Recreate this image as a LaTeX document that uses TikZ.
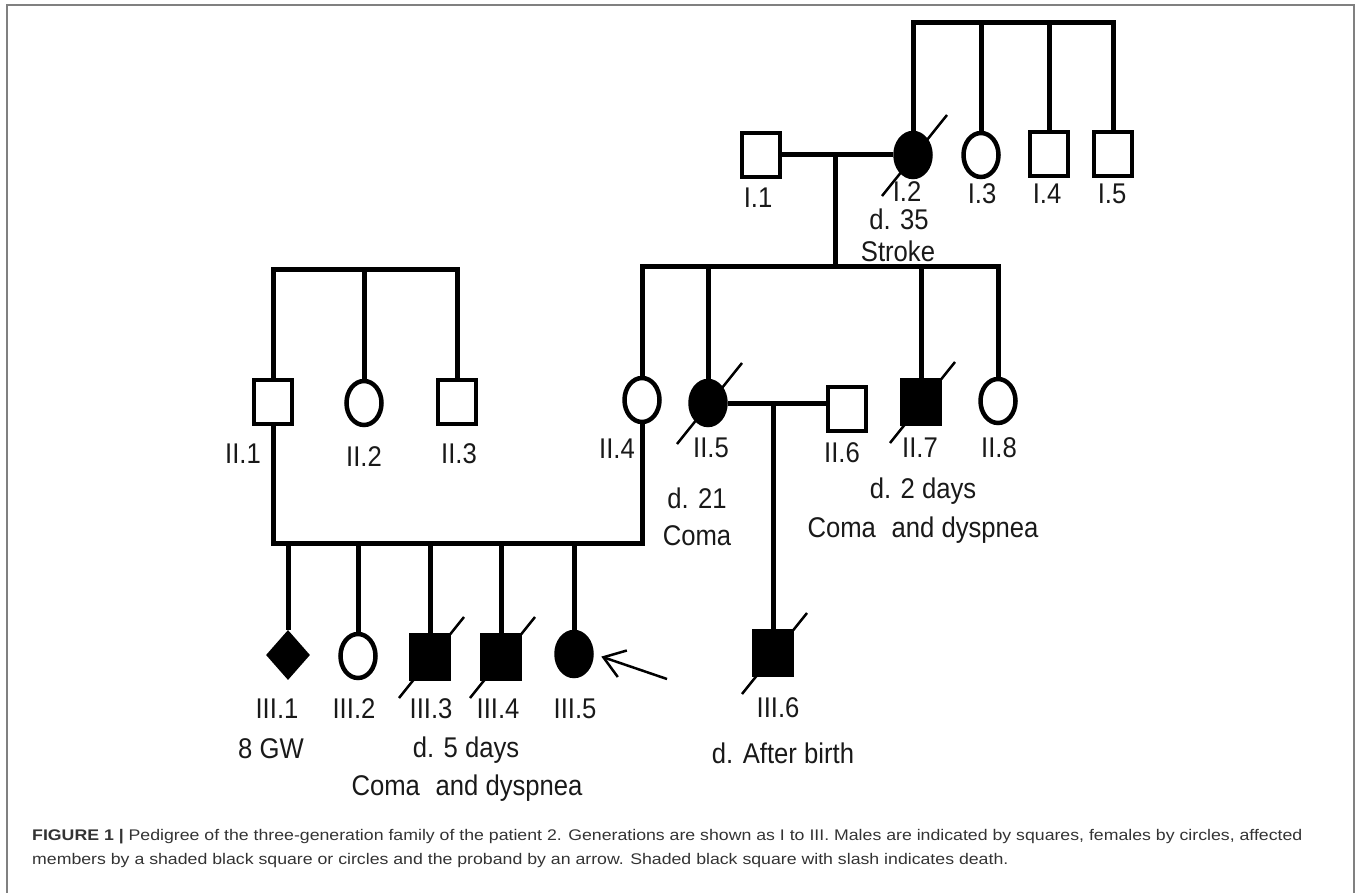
\documentclass[tikz,border=0pt]{standalone}
\usepackage{fontspec}
\setmainfont{Liberation Sans}
\newfontfamily\pedfont[FakeStretch=0.9]{Liberation Sans}
\newfontfamily\capfont[FakeStretch=1.15]{Liberation Sans}
\usepackage{tikz}
\usetikzlibrary{shapes.geometric, arrows.meta}
\usetikzlibrary{positioning, calc}
\tikzstyle{male} = [rectangle, draw=black, line width=4.5pt, 
minimum width=38pt, minimum height=44pt, inner sep=0pt]
\tikzstyle{female} = [ellipse, draw=black, line width=4.5pt, 
minimum width=35pt, minimum height=44pt, inner sep=0pt]
\tikzstyle{unknown} = [diamond, fill=black, minimum width=44pt, 
minimum height=50pt, inner sep=0pt]
\tikzstyle{affected} = [fill=black]
\tikzstyle{link} = [line width=5pt]
\tikzstyle{slash} = [line width=2.5pt]
\tikzstyle{proband} = [line width=2.5pt, 
-{Straight Barb[length=20pt, width=28pt]}]
\tikzstyle{lab} = [anchor=base, inner sep=0pt, text=black!90, 
font=\pedfont\fontsize{28.5}{31}\selectfont]
\tikzstyle{caption} = [anchor=base west, inner sep=0pt, text=black!80, 
font=\capfont\fontsize{15.4}{18}\selectfont]
\newcommand{\deceased}[1]{\draw [slash] ($(#1.center)+(-31,41)$) 
-- ($(#1.center)+(34,-40)$);}

\begin{document}
\begin{tikzpicture}[x=1pt, y=-1pt]
\useasboundingbox (0,0) rectangle (1357,893);
\draw [gray, line width=2pt] (7,893) -- (7,5) -- (1354,5) -- (1354,893);

\node (i1) [male] at (761,155) {};
\node (i2) [female, affected] at (913,155) {};
\node (i3) [female] at (981,155) {};
\node (i4) [male] at (1049,154) {};
\node (i5) [male] at (1113,154) {};
\coordinate (s1) at (1000,23);
\coordinate (m1) at (835,155);
\coordinate (s2) at (835,267);

\node (ii1) [male] at (273,402) {};
\node (ii2) [female] at (364,403) {};
\node (ii3) [male] at (457,402) {};
\node (ii4) [female] at (642,400) {};
\node (ii5) [female, affected] at (708,403) {};
\node (ii6) [male] at (847,409) {};
\node (ii7) [male, affected] at (921,402) {};
\node (ii8) [female] at (998,401) {};
\coordinate (s3) at (364,270);
\coordinate (m2) at (450,543);
\coordinate (m3) at (773,403);

\node (iii1) [unknown] at (288,655) {};
\node (iii2) [female] at (358,656) {};
\node (iii3) [male, affected] at (430,657) {};
\node (iii4) [male, affected] at (501,657) {};
\node (iii5) [female, affected] at (574,654) {};
\node (iii6) [male, affected] at (773,653) {};
\coordinate (pa) at (667,679);

\draw [link] (i1.east) -- (i2.west);
\draw [link] (m1) -- (s2);
\draw [link] (i2.north) -- (i2 |- s1) -- (i5 |- s1) -- (i5.north);
\draw [link] (i3.north) -- (i3 |- s1);
\draw [link] (i4.north) -- (i4 |- s1);
\draw [link] (ii4.north) -- (ii4 |- s2) -- (ii8 |- s2) -- (ii8.north);
\draw [link] (ii5.north) -- (ii5 |- s2);
\draw [link] (ii7.north) -- (ii7 |- s2);
\draw [link] (ii1.north) -- (ii1 |- s3) -- (ii3 |- s3) -- (ii3.north);
\draw [link] (ii2.north) -- (ii2 |- s3);
\draw [link] (ii1.south) -- (ii1 |- m2) -- (ii4 |- m2) -- (ii4.south);
\foreach \k in {iii1,iii2,iii3,iii4,iii5}
  \draw [link] (\k.north) -- (\k |- m2);
\draw [link] (ii5.east) -- (ii5.east -| ii6.west);
\draw [link] (m3) -- (iii6.north);
\draw [proband, shorten >=8pt] (pa) -- (iii5.east);

\deceased{i2}
\deceased{ii5}
\deceased{ii7}
\deceased{iii3}
\deceased{iii4}
\deceased{iii6}

\node (i1l) [lab] at (758,208) {I.1};
\node (i2l) [lab] at (907,202) {I.2};
\node (i3l) [lab] at (982,204) {I.3};
\node (i4l) [lab] at (1047,204) {I.4};
\node (i5l) [lab] at (1112,204) {I.5};
\node (i2d) [lab] at (899,230) {d. 35};
\node (i2c) [lab] at (898,262) {Stroke};

\node (ii1l) [lab] at (243,463) {II.1};
\node (ii2l) [lab] at (364,466) {II.2};
\node (ii3l) [lab] at (459,463) {II.3};
\node (ii4l) [lab] at (617,458) {II.4};
\node (ii5l) [lab] at (711,457) {II.5};
\node (ii6l) [lab] at (842,462) {II.6};
\node (ii7l) [lab] at (920,457) {II.7};
\node (ii8l) [lab] at (999,457) {II.8};
\node (ii5d) [lab] at (697,508) {d. 21};
\node (ii5c) [lab] at (697,545) {Coma};
\node (ii7d) [lab] at (923,498) {d. 2 days};
\node (ii7c) [lab] at (923,537) {Coma\hspace{0.3em} and dyspnea};

\node (iii1l) [lab] at (277,718) {III.1};
\node (iii2l) [lab] at (354,718) {III.2};
\node (iii3l) [lab] at (431,718) {III.3};
\node (iii4l) [lab] at (498,718) {III.4};
\node (iii5l) [lab] at (575,718) {III.5};
\node (iii6l) [lab] at (778,717) {III.6};
\node (iii1g) [lab] at (271,758) {8 GW};
\node (iii3d) [lab] at (466,757) {d. 5 days};
\node (iii3c) [lab] at (467,795) {Coma\hspace{0.3em} and dyspnea};
\node (iii6d) [lab] at (783,763) {d. After birth};

\node (cap1) [caption] at (32,840) {\textbf{FIGURE 1 |} Pedigree of the three-generation family of the patient 2. Generations are shown as I to III. Males are indicated by squares, females by circles, affected};
\node (cap2) [caption] at (32,864) {members by a shaded black square or circles and the proband by an arrow. Shaded black square with slash indicates death.};

\end{tikzpicture}
\end{document}
